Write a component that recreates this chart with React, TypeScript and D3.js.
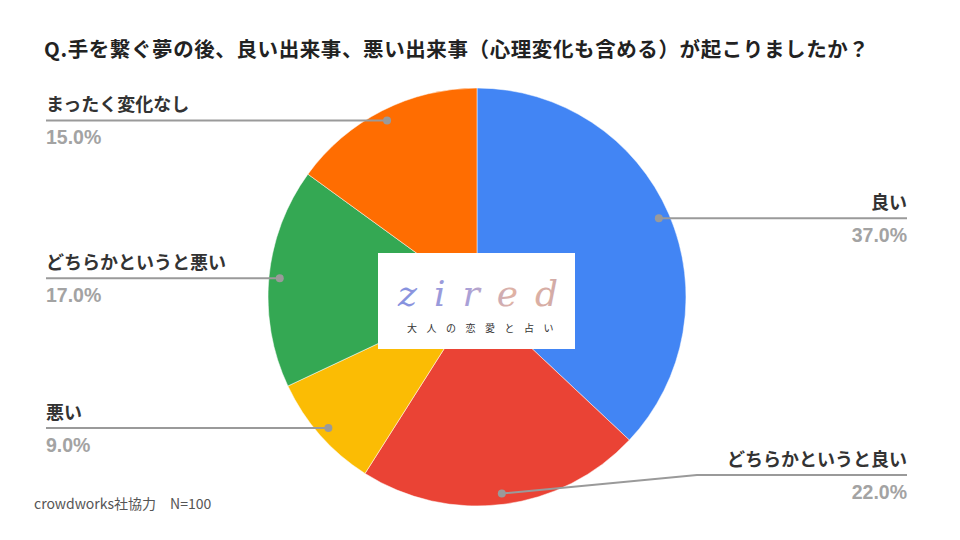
import React from "react";
import * as d3 from "d3";

const categories = ["良い", "どちらかというと良い", "悪い", "どちらかというと悪い", "まったく変化なし"];
const values = [37, 22, 9, 17, 15];
const colors = ["#4285F4", "#EA4335", "#FBBC04", "#34A853", "#FF6D01"];
const title = "Q.手を繋ぐ夢の後、良い出来事、悪い出来事（心理変化も含める）が起こりましたか？";
const footer = "crowdworks社協力\u3000N=100";

export default function App() {
  const W = 960, H = 540;
  const cx = 477, cy = 297, r = 209;
  const pie = d3.pie<number>().sort(null).value((d) => d);
  const arcs = pie(values);
  const arc = d3.arc<d3.PieArcDatum<number>>().innerRadius(0).outerRadius(r);
  const total = d3.sum(values);
  const jp = "'Noto Sans CJK JP', 'Noto Sans', sans-serif";
  const lat = "'Liberation Sans', Arial, sans-serif";

  return (
    <svg width={W} height={H} style={{ position: "absolute", left: 0, top: 0, background: "#fff" }}>
      <rect width={W} height={H} fill="#fff" />
      <text x={44} y={57} fontFamily={jp} fontWeight={700} fontSize={20.5} letterSpacing={0.6} fill="#222">{title}</text>
      <g transform={`translate(${cx},${cy})`}>
        {arcs.map((a, i) => (
          <path key={i} d={arc(a) || ""} fill={colors[i]} stroke="#fff" strokeWidth={0.5} />
        ))}
      </g>
      {arcs.map((a, i) => {
        const mid = (a.startAngle + a.endAngle) / 2;
        const rr = r * 0.948;
        const dx = cx + rr * Math.sin(mid);
        const dy = cy - rr * Math.cos(mid);
        const right = Math.sin(mid) > 0;
        const ly = Math.min(dy, 475);
        const xEnd = right ? 907 : 46;
        const elbowX = right ? 697 : 260;
        const path = ly !== dy
          ? `M${dx},${dy} L${elbowX},${ly} L${xEnd},${ly}`
          : `M${dx},${dy} L${xEnd},${ly}`;
        const anchor = right ? "end" : "start";
        return (
          <g key={i}>
            <path d={path} fill="none" stroke="#9a9a9a" strokeWidth={2} />
            <circle cx={dx} cy={dy} r={4} fill="#9a9a9a" />
            <text x={xEnd} y={ly - 9} textAnchor={anchor} fontFamily={jp} fontWeight={700} fontSize={18} fill="#333">{categories[i]}</text>
            <text x={xEnd} y={ly + 24} textAnchor={anchor} fontFamily={lat} fontWeight={700} fontSize={19.5} fill="#a3a3a3">{((values[i] / total) * 100).toFixed(1)}%</text>
          </g>
        );
      })}
      <defs>
        <linearGradient id="zg" x1="390" x2="560" y1="0" y2="0" gradientUnits="userSpaceOnUse">
          <stop offset="0" stopColor="#7f8fe0" />
          <stop offset="0.45" stopColor="#a8a0d8" />
          <stop offset="0.75" stopColor="#e3b3a0" />
          <stop offset="1" stopColor="#d0aaa8" />
        </linearGradient>
      </defs>
      <rect x={378} y={253} width={197} height={96} fill="#fff" />
      <text x={398} y={306} fontFamily="'DejaVu Serif', 'Liberation Serif', serif" fontStyle="italic" fontSize={36} letterSpacing={17} fill="url(#zg)">zired</text>
      <text x={407} y={332} fontFamily={jp} fontSize={10} letterSpacing={9.5} fill="#333">大人の恋愛と占い</text>
      <text x={34} y={509} fontFamily={jp} fontSize={14} fill="#555">{footer}</text>
    </svg>
  );
}
